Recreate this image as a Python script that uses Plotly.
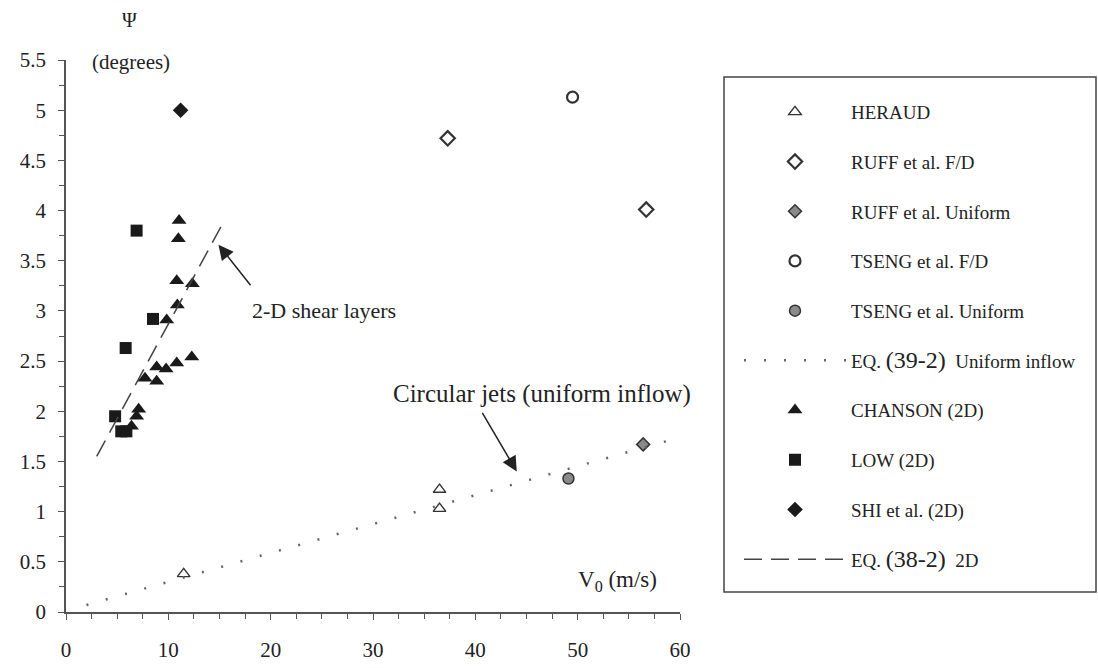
import plotly.graph_objects as go

# ---------------- data ----------------
heraud_x = [11.5, 36.5, 36.5]
heraud_y = [0.38, 1.22, 1.03]
ruff_fd_x = [37.3, 56.7]
ruff_fd_y = [4.72, 4.01]
ruff_uni_x = [56.4]
ruff_uni_y = [1.67]
tseng_fd_x = [49.5]
tseng_fd_y = [5.13]
tseng_uni_x = [49.1]
tseng_uni_y = [1.33]
eq39_x = [2.0, 60.0]
eq39_y = [0.07, 1.74]
chanson_x = [11.05, 10.98, 10.82, 12.35, 10.88, 9.84, 12.29, 10.82, 9.78, 8.86, 7.72, 8.86, 6.4, 6.9, 7.1]
chanson_y = [3.90, 3.72, 3.30, 3.27, 3.06, 2.91, 2.54, 2.48, 2.42, 2.44, 2.33, 2.30, 1.85, 1.95, 2.02]
low_x = [6.9, 8.5, 5.83, 4.8, 5.4, 5.9]
low_y = [3.80, 2.92, 2.63, 1.95, 1.80, 1.80]
shi_x = [11.2]
shi_y = [5.0]
eq38_x = [3.0, 15.2]
eq38_y = [1.55, 3.85]

x_ticks = [0, 10, 20, 30, 40, 50, 60]
y_ticks = [0, 0.5, 1, 1.5, 2, 2.5, 3, 3.5, 4, 4.5, 5, 5.5]

SERIF = "Liberation Serif, Times New Roman, serif"
INK = "#1a1a1a"
TXT = "#222"

fig = go.Figure()

def add(name, x, y, mode, **kw):
    fig.add_trace(go.Scatter(x=x, y=y, mode=mode, name=name, legendgroup=name,
                             cliponaxis=False, **kw))

add("HERAUD", heraud_x, heraud_y, "markers",
    marker=dict(symbol="triangle-up-open", size=11, color="#333", line=dict(width=1.4)))
add("RUFF et al. F/D", ruff_fd_x, ruff_fd_y, "markers",
    marker=dict(symbol="diamond-open", size=11, color="#333", line=dict(width=2.2)))
add("RUFF et al. Uniform", ruff_uni_x, ruff_uni_y, "markers",
    marker=dict(symbol="diamond", size=10, color="#8a8a8a", line=dict(width=1.5, color="#333")))
add("TSENG et al. F/D", tseng_fd_x, tseng_fd_y, "markers",
    marker=dict(symbol="circle-open", size=11, color="#333", line=dict(width=2.2)))
add("TSENG et al. Uniform", tseng_uni_x, tseng_uni_y, "markers",
    marker=dict(symbol="circle", size=11, color="#8a8a8a", line=dict(width=1.5, color="#333")))
add("EQ. <span style='font-size:24px'>(39-2)</span>  Uniform inflow", eq39_x, eq39_y, "lines",
    line=dict(color="#666", width=2.5, dash="2px,18px"))
add("CHANSON (2D)", chanson_x, chanson_y, "markers",
    marker=dict(symbol="triangle-up", size=13, color=INK))
add("LOW (2D)", low_x, low_y, "markers",
    marker=dict(symbol="square", size=12, color=INK))
add("SHI et al. (2D)", shi_x, shi_y, "markers",
    marker=dict(symbol="diamond", size=12, color=INK))
add("EQ. <span style='font-size:24px'>(38-2)</span>  2D", eq38_x, eq38_y, "lines",
    line=dict(color="#444", width=1.5, dash="18px,9px"))

axis_common = dict(showgrid=False, zeroline=False, showline=True, linecolor="#555",
                   linewidth=1.5, ticks="outside", tickcolor="#555", tickwidth=1.3,
                   automargin=False,
                   tickfont=dict(family=SERIF, size=21, color=TXT))

fig.update_xaxes(range=[0, 60], tickvals=x_ticks, ticklen=6, ticklabelstandoff=12,
                 minor=dict(dtick=2.5, ticklen=5, ticks="outside", tickcolor="#555"),
                 **axis_common)
fig.update_yaxes(range=[0, 5.5], tickvals=y_ticks, ticklen=6, ticklabelstandoff=8,
                 minor=dict(dtick=0.25, ticklen=5, ticks="outside", tickcolor="#555"),
                 **axis_common)

# layout geometry helpers (pixel -> paper)
W, H = 1098, 668
L, R, T, B = 66, 418, 60, 56
pw, ph = W - L - R, H - T - B
def px(x): return (x - L) / pw
def py(y): return (H - B - y) / ph

# legend frame
fig.add_shape(type="rect", xref="paper", yref="paper",
              x0=px(724), x1=px(1096), y0=py(592), y1=py(77),
              line=dict(color="#444", width=1.5), fillcolor="rgba(0,0,0,0)")

def label(text, x, y, size, xref="x", yref="y"):
    return dict(text=text, x=x, y=y, xref=xref, yref=yref, showarrow=False,
                xanchor="center", yanchor="middle",
                font=dict(family=SERIF, size=size, color=TXT))

def arrow(x, y, ax, ay):
    return dict(text="", x=x, y=y, ax=ax, ay=ay, xref="x", yref="y",
                axref="x", ayref="y", showarrow=True, arrowhead=2, arrowsize=2.0,
                arrowwidth=1.5, arrowcolor="#222")

fig.update_layout(
    width=W, height=H, margin=dict(l=L, r=R, t=T, b=B, autoexpand=False),
    paper_bgcolor="white", plot_bgcolor="white",
    font=dict(family=SERIF, color=TXT),
    showlegend=True,
    legend=dict(x=px(739), y=py(93), xanchor="left", yanchor="top",
                font=dict(family=SERIF, size=19, color=TXT),
                itemwidth=102, tracegroupgap=22, bgcolor="rgba(0,0,0,0)",
                borderwidth=0),
    annotations=[
        label("Ψ", px(129), py(20), 20, "paper", "paper"),
        label("(degrees)", px(131), py(62), 21, "paper", "paper"),
        label("V<sub>0</sub> (m/s)", 53.9, 0.31, 23),
        label("2-D shear layers", 25.2, 3.0, 22),
        label("Circular jets (uniform inflow)", 46.5, 2.17, 25),
        arrow(14.9, 3.66, 18.15, 3.24),
        arrow(44.05, 1.40, 40.6, 2.0),
    ],
)

fig.write_html("out.html")
